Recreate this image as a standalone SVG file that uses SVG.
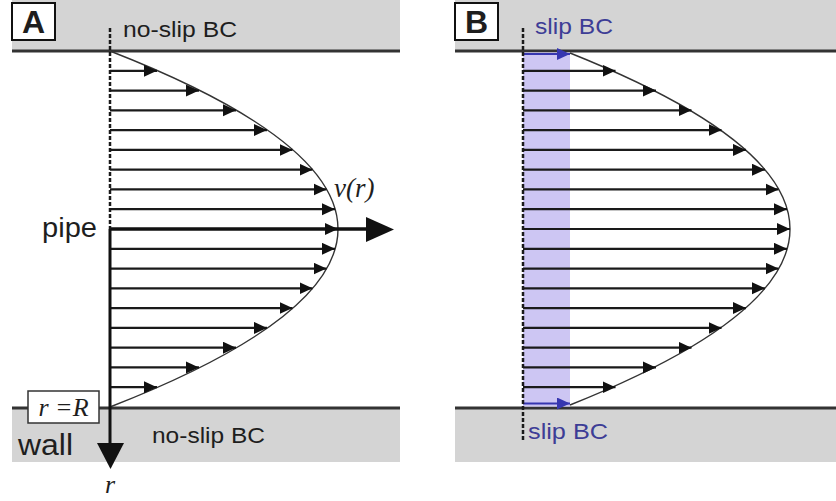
<svg xmlns="http://www.w3.org/2000/svg" width="836" height="501" viewBox="0 0 836 501">
<style>
.band{fill:#d4d4d4}
.wl{stroke:#333;stroke-width:3}
.sans{font-family:"Liberation Sans",Arial,sans-serif;fill:#1e1e1e}
.serif{font-family:"Liberation Serif","Times New Roman",serif;font-style:italic;fill:#1e1e1e}
.blue{fill:#3d3d96}
.v{stroke:#1a1a1a;stroke-width:2.2;marker-end:url(#ah)}
.vb{stroke:#3636b0;stroke-width:2.2;marker-end:url(#ahb)}
.dash{stroke:#1a1a1a;stroke-width:2.5;stroke-dasharray:4 2;fill:none}
.curve{fill:none;stroke:#333;stroke-width:1.4}
.lbl{fill:#fff;stroke:#111;stroke-width:2}
</style>
<defs>
<marker id="ah" markerUnits="userSpaceOnUse" markerWidth="14" markerHeight="13" refX="13" refY="6" orient="auto"><path d="M0,0 L13,6 L0,12 z" fill="#111"/></marker>
<marker id="ahb" markerUnits="userSpaceOnUse" markerWidth="14" markerHeight="13" refX="13" refY="6" orient="auto"><path d="M0,0 L13,6 L0,12 z" fill="#3636b0"/></marker>
</defs>
<rect width="836" height="501" fill="#fff"/>
<g id="panelA">
<g id="wallA-top"><rect class="band" x="12" y="0" width="388" height="51"/><line class="wl" x1="12" y1="51" x2="400" y2="51"/></g>
<g id="wallA-bottom"><rect class="band" x="12" y="408" width="388" height="54"/><line class="wl" x1="12" y1="408" x2="400" y2="408"/></g>
<g id="labelA"><rect class="lbl" x="12" y="3" width="43" height="37"/><text class="sans" x="33.5" y="33" font-size="32" font-weight="bold" text-anchor="middle" fill="#111">A</text></g>
<text class="sans" x="123" y="37" font-size="22" textLength="114" lengthAdjust="spacingAndGlyphs">no-slip BC</text>
<text class="sans" x="152" y="443" font-size="22" textLength="113" lengthAdjust="spacingAndGlyphs">no-slip BC</text>
<text class="sans" x="42" y="237" font-size="27" textLength="55" lengthAdjust="spacingAndGlyphs">pipe</text>
<text class="sans" x="18" y="455" font-size="30" textLength="55" lengthAdjust="spacingAndGlyphs">wall</text>
<text class="serif" x="334" y="197" font-size="27">v(r)</text>
<path class="curve" d="M110,51 Q566,229 110,407"/>
<g id="connectorsA">
<line class="v" x1="110" y1="70.8" x2="157" y2="70.8"/>
<line class="v" x1="110" y1="90.6" x2="199" y2="90.6"/>
<line class="v" x1="110" y1="110.3" x2="236" y2="110.3"/>
<line class="v" x1="110" y1="130.1" x2="267" y2="130.1"/>
<line class="v" x1="110" y1="149.9" x2="292.5" y2="149.9"/>
<line class="v" x1="110" y1="169.7" x2="312.5" y2="169.7"/>
<line class="v" x1="110" y1="189.4" x2="326.5" y2="189.4"/>
<line class="v" x1="110" y1="209.2" x2="335" y2="209.2"/>
<line class="v" x1="110" y1="229" x2="338" y2="229"/>
<line class="v" x1="110" y1="248.8" x2="335" y2="248.8"/>
<line class="v" x1="110" y1="268.6" x2="326.5" y2="268.6"/>
<line class="v" x1="110" y1="288.3" x2="312.5" y2="288.3"/>
<line class="v" x1="110" y1="308.1" x2="292.5" y2="308.1"/>
<line class="v" x1="110" y1="327.9" x2="267" y2="327.9"/>
<line class="v" x1="110" y1="347.7" x2="236" y2="347.7"/>
<line class="v" x1="110" y1="367.4" x2="199" y2="367.4"/>
<line class="v" x1="110" y1="387.2" x2="157" y2="387.2"/>
<line x1="110" y1="229" x2="370" y2="229" stroke="#111" stroke-width="3.5"/>
<path d="M366,217 L394,229.5 L366,242 z" fill="#111"/>
<line class="dash" x1="110" y1="28" x2="110" y2="229"/>
<line x1="110" y1="229" x2="110" y2="446" stroke="#111" stroke-width="3"/>
<path d="M97,443 L124,443 L110.5,469 z" fill="#111"/>
</g>
<g id="rR"><rect x="28" y="391" width="71" height="32" fill="#fff" stroke="#333" stroke-width="1.5"/><text class="serif" x="63.5" y="416" font-size="26" text-anchor="middle">r =R</text></g>
<text class="serif" x="110" y="493" font-size="26" text-anchor="middle">r</text>
</g>
<g id="panelB">
<g id="wallB-top"><rect class="band" x="455" y="0" width="381" height="51"/><line class="wl" x1="455" y1="51" x2="836" y2="51"/></g>
<g id="wallB-bottom"><rect class="band" x="455" y="408" width="381" height="54"/><line class="wl" x1="455" y1="408" x2="836" y2="408"/></g>
<rect x="523" y="52.5" width="47" height="354" fill="#cdc6f3"/>
<g id="labelB"><rect class="lbl" x="455" y="3" width="43" height="37"/><text class="sans" x="476.5" y="33" font-size="32" font-weight="bold" text-anchor="middle" fill="#111">B</text></g>
<text class="sans blue" x="535" y="34" font-size="22" textLength="78" lengthAdjust="spacingAndGlyphs">slip BC</text>
<text class="sans blue" x="528" y="439" font-size="22" textLength="80" lengthAdjust="spacingAndGlyphs">slip BC</text>
<path class="curve" d="M570,53 Q1010,229 570,405"/>
<g id="connectorsB">
<line class="vb" x1="523" y1="54" x2="570" y2="54"/>
<line class="v" x1="523" y1="70.8" x2="615.5" y2="70.8"/>
<line class="v" x1="523" y1="90.6" x2="656" y2="90.6"/>
<line class="v" x1="523" y1="110.3" x2="691.5" y2="110.3"/>
<line class="v" x1="523" y1="130.1" x2="721.5" y2="130.1"/>
<line class="v" x1="523" y1="149.9" x2="746" y2="149.9"/>
<line class="v" x1="523" y1="169.7" x2="765" y2="169.7"/>
<line class="v" x1="523" y1="189.4" x2="778.5" y2="189.4"/>
<line class="v" x1="523" y1="209.2" x2="787" y2="209.2"/>
<line class="v" x1="523" y1="229" x2="790" y2="229"/>
<line class="v" x1="523" y1="248.8" x2="787" y2="248.8"/>
<line class="v" x1="523" y1="268.6" x2="778.5" y2="268.6"/>
<line class="v" x1="523" y1="288.3" x2="765" y2="288.3"/>
<line class="v" x1="523" y1="308.1" x2="746" y2="308.1"/>
<line class="v" x1="523" y1="327.9" x2="721.5" y2="327.9"/>
<line class="v" x1="523" y1="347.7" x2="691.5" y2="347.7"/>
<line class="v" x1="523" y1="367.4" x2="656" y2="367.4"/>
<line class="v" x1="523" y1="387.2" x2="615.5" y2="387.2"/>
<line class="vb" x1="523" y1="403.5" x2="570" y2="403.5"/>
<line class="dash" x1="523" y1="28" x2="523" y2="441"/>
</g>
</g>
</svg>
